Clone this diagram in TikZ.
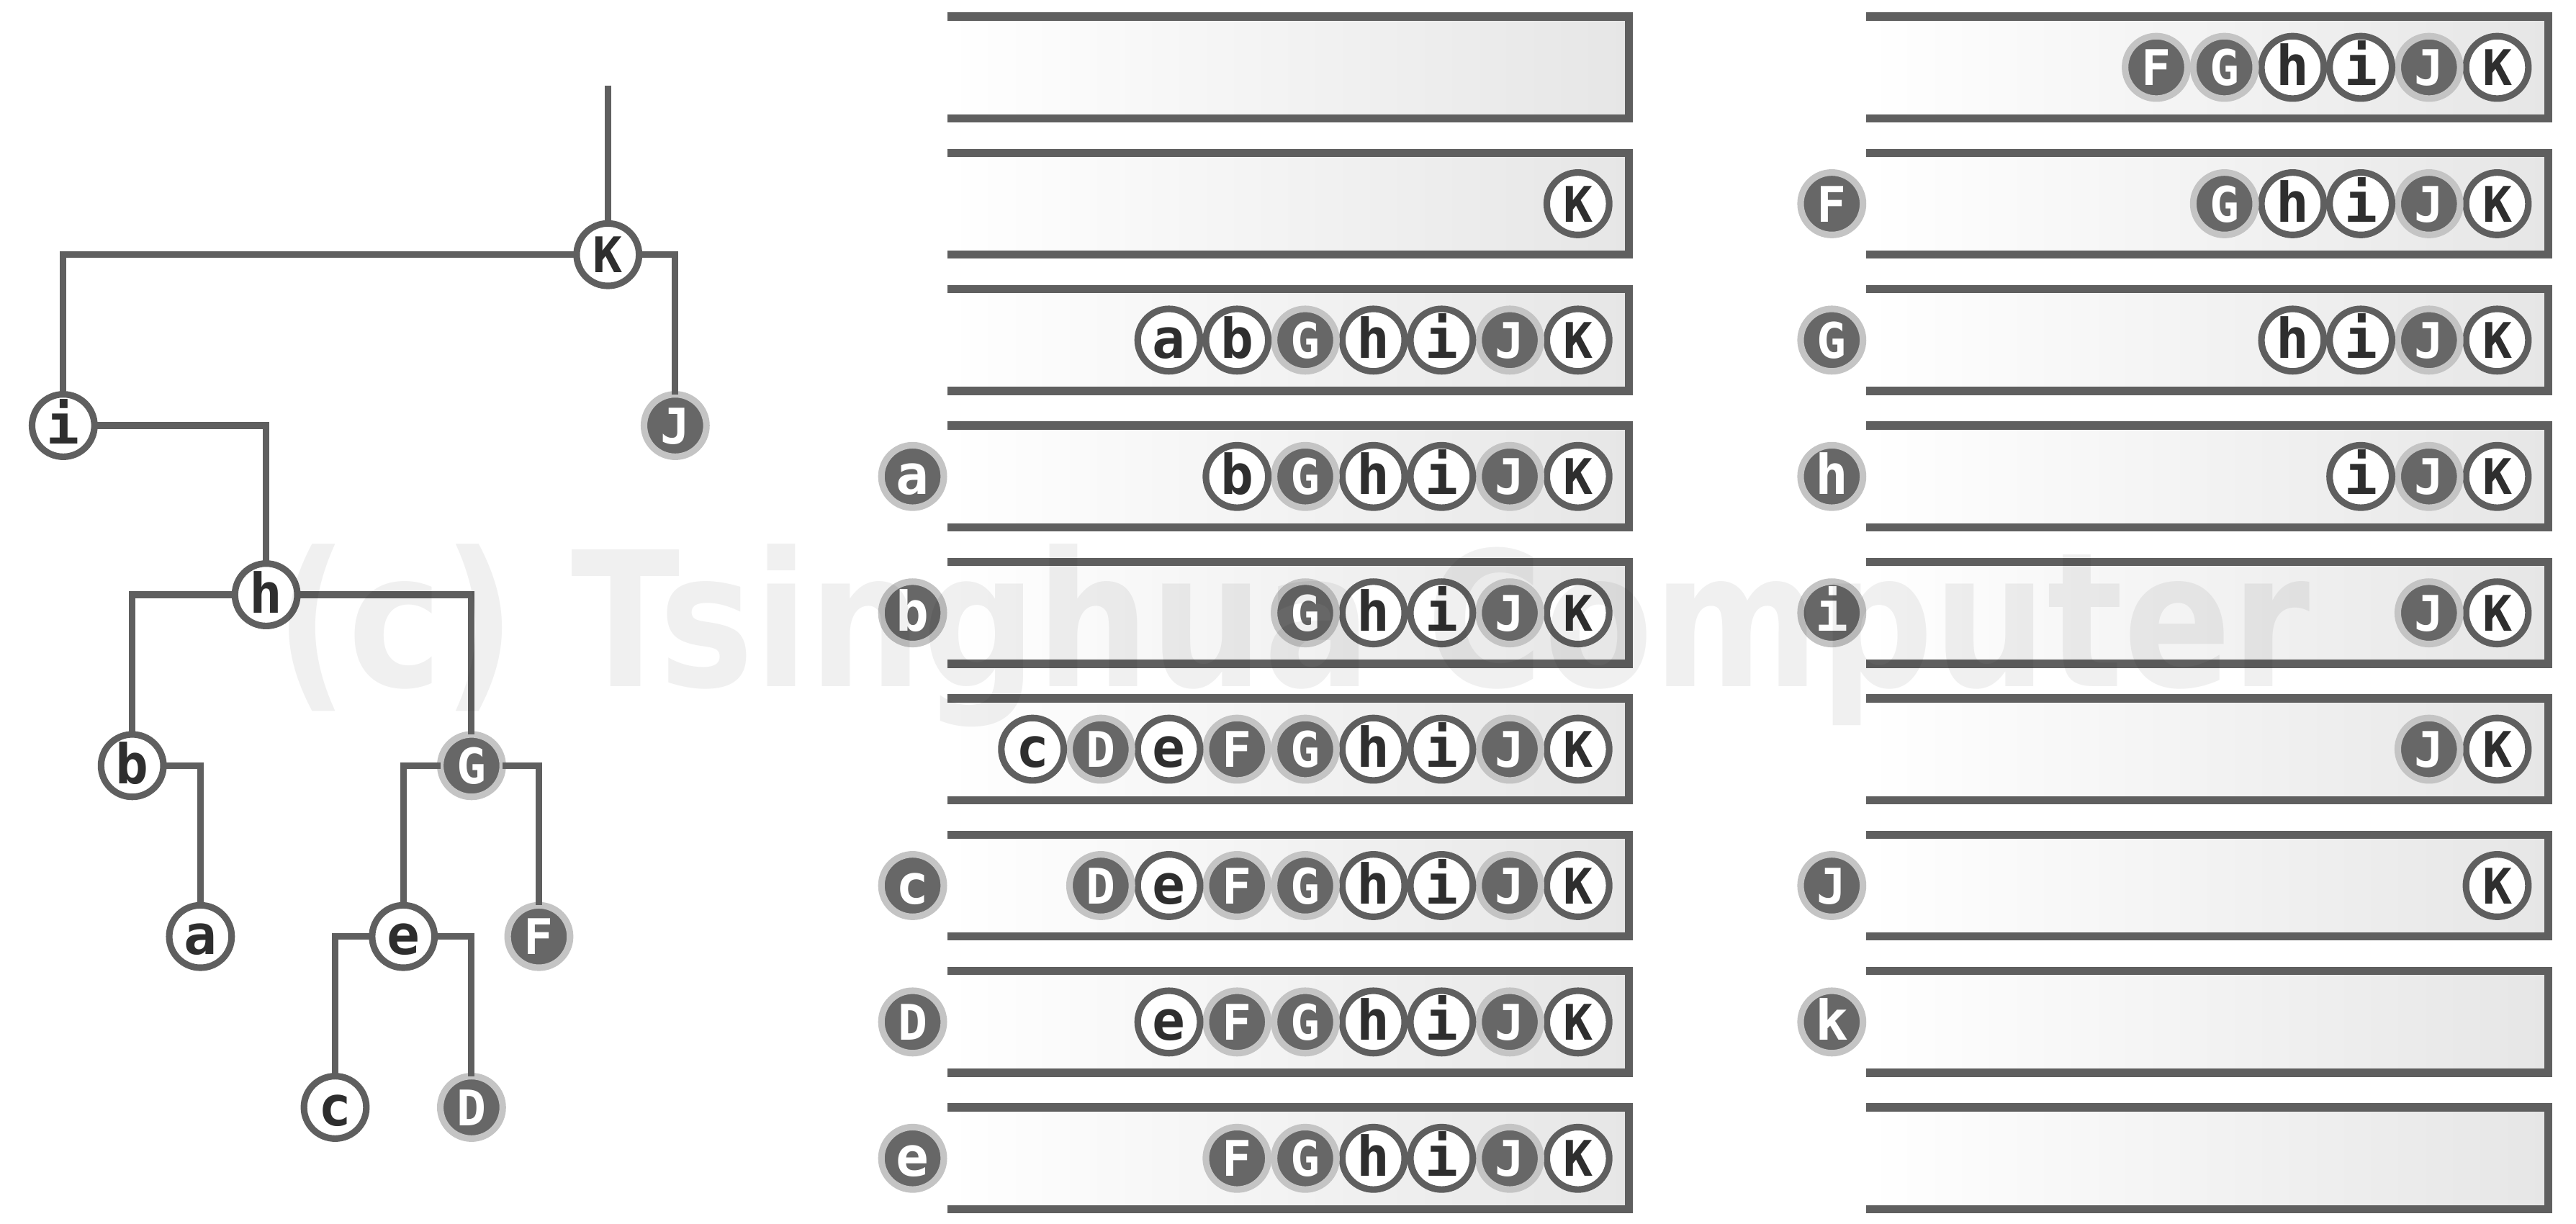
\documentclass[tikz,border=0pt]{standalone}
\usepackage{fontspec}
\usepackage{tikz}
\usetikzlibrary{positioning}
\newfontfamily\lettfont{DejaVu Sans Mono}
\newfontfamily\markfont{DejaVu Sans}
\definecolor{rimgray}{HTML}{5F5F5F}
\definecolor{halo}{HTML}{C4C4C4}
\definecolor{darkfill}{HTML}{676767}
\definecolor{ink}{HTML}{2E2E2E}
\definecolor{boxgray}{HTML}{E6E6E6}
\tikzset{
  wnode/.style={circle, draw=rimgray, fill=white, text=ink, line width=0.8mm, minimum size=7.6mm, inner sep=0pt, outer sep=0pt, text height=4.4mm, text depth=0pt, font=\lettfont\bfseries\fontsize{17}{17}\selectfont},
  dnode/.style={wnode, draw=halo, fill=darkfill, text=white},
  lc/.style={font=\lettfont\bfseries\fontsize{19}{19}\selectfont},
  stackbox/.style={rectangle, left color=white, right color=boxgray, minimum width=83mm, minimum height=12.4mm, inner sep=0pt, outer sep=0pt},
  rimline/.style={draw=rimgray, line width=1mm},
  branch/.style={draw=rimgray, line width=0.8mm},
}

\begin{document}
\begin{tikzpicture}[x=0.2mm, y=-0.2mm]
  \useasboundingbox (0,0) rectangle (1568,744.6);
  % the tree
  \coordinate (top) at (370,52);
  \node[wnode] (tK) at (370,155) {K};
  \node[wnode, lc] (ti) at (38.5,259) {i};
  \node[dnode] (tJ) at (411,259) {J};
  \node[wnode, lc] (th) at (162,362) {h};
  \node[wnode, lc] (tb) at (80.5,466) {b};
  \node[dnode] (tG) at (287,466) {G};
  \node[wnode, lc] (ta) at (122,570) {a};
  \node[wnode, lc] (te) at (245.5,570) {e};
  \node[dnode] (tF) at (328,570) {F};
  \node[wnode, lc] (tc) at (204,674) {c};
  \node[dnode] (tD) at (287,674) {D};
  \draw[branch] (top) -- (tK);
  \draw[branch] (tK.west) -| (ti.north);
  \draw[branch] (tK.east) -| (tJ.north);
  \draw[branch] (ti.east) -| (th.north);
  \draw[branch] (th.west) -| (tb.north);
  \draw[branch] (th.east) -| (tG.north);
  \draw[branch] (tb.east) -| (ta.north);
  \draw[branch] (tG.west) -| (te.north);
  \draw[branch] (tG.east) -| (tF.north);
  \draw[branch] (te.west) -| (tc.north);
  \draw[branch] (te.east) -| (tD.north);
  % stack boxes, middle column
  \node[stackbox] (m1) at (784,41) {};
  \node[stackbox, below=4.2mm of m1] (m2) {};
  \node[stackbox, below=4.2mm of m2] (m3) {};
  \node[stackbox, below=4.2mm of m3] (m4) {};
  \node[stackbox, below=4.2mm of m4] (m5) {};
  \node[stackbox, below=4.2mm of m5] (m6) {};
  \node[stackbox, below=4.2mm of m6] (m7) {};
  \node[stackbox, below=4.2mm of m7] (m8) {};
  \node[stackbox, below=4.2mm of m8] (m9) {};
  % stack boxes, right column
  \node[stackbox] (r1) at (1343.5,41) {};
  \node[stackbox, below=4.2mm of r1] (r2) {};
  \node[stackbox, below=4.2mm of r2] (r3) {};
  \node[stackbox, below=4.2mm of r3] (r4) {};
  \node[stackbox, below=4.2mm of r4] (r5) {};
  \node[stackbox, below=4.2mm of r5] (r6) {};
  \node[stackbox, below=4.2mm of r6] (r7) {};
  \node[stackbox, below=4.2mm of r7] (r8) {};
  \node[stackbox, below=4.2mm of r8] (r9) {};
  \draw[rimline] (m1.north west) -- (m1.north east) -- (m1.south east) -- (m1.south west);
  \draw[rimline] (m2.north west) -- (m2.north east) -- (m2.south east) -- (m2.south west);
  \draw[rimline] (m3.north west) -- (m3.north east) -- (m3.south east) -- (m3.south west);
  \draw[rimline] (m4.north west) -- (m4.north east) -- (m4.south east) -- (m4.south west);
  \draw[rimline] (m5.north west) -- (m5.north east) -- (m5.south east) -- (m5.south west);
  \draw[rimline] (m6.north west) -- (m6.north east) -- (m6.south east) -- (m6.south west);
  \draw[rimline] (m7.north west) -- (m7.north east) -- (m7.south east) -- (m7.south west);
  \draw[rimline] (m8.north west) -- (m8.north east) -- (m8.south east) -- (m8.south west);
  \draw[rimline] (m9.north west) -- (m9.north east) -- (m9.south east) -- (m9.south west);
  \draw[rimline] (r1.north west) -- (r1.north east) -- (r1.south east) -- (r1.south west);
  \draw[rimline] (r2.north west) -- (r2.north east) -- (r2.south east) -- (r2.south west);
  \draw[rimline] (r3.north west) -- (r3.north east) -- (r3.south east) -- (r3.south west);
  \draw[rimline] (r4.north west) -- (r4.north east) -- (r4.south east) -- (r4.south west);
  \draw[rimline] (r5.north west) -- (r5.north east) -- (r5.south east) -- (r5.south west);
  \draw[rimline] (r6.north west) -- (r6.north east) -- (r6.south east) -- (r6.south west);
  \draw[rimline] (r7.north west) -- (r7.north east) -- (r7.south east) -- (r7.south west);
  \draw[rimline] (r8.north west) -- (r8.north east) -- (r8.south east) -- (r8.south west);
  \draw[rimline] (r9.north west) -- (r9.north east) -- (r9.south east) -- (r9.south west);
  % row 2
  \node[wnode, left=2.4mm of m2.east] (m2K) {K};
  % row 3
  \node[wnode, left=2.4mm of m3.east] (m3K) {K};
  \node[dnode, left=0.7mm of m3K] (m3J) {J};
  \node[wnode, lc, left=0.7mm of m3J] (m3i) {i};
  \node[wnode, lc, left=0.7mm of m3i] (m3h) {h};
  \node[dnode, left=0.7mm of m3h] (m3G) {G};
  \node[wnode, lc, left=0.7mm of m3G] (m3b) {b};
  \node[wnode, lc, left=0.7mm of m3b] (m3a) {a};
  % row 4
  \node[dnode, lc, left=0.4mm of m4] (m4out) {a};
  \node[wnode, left=2.4mm of m4.east] (m4K) {K};
  \node[dnode, left=0.7mm of m4K] (m4J) {J};
  \node[wnode, lc, left=0.7mm of m4J] (m4i) {i};
  \node[wnode, lc, left=0.7mm of m4i] (m4h) {h};
  \node[dnode, left=0.7mm of m4h] (m4G) {G};
  \node[wnode, lc, left=0.7mm of m4G] (m4b) {b};
  % row 5
  \node[dnode, lc, left=0.4mm of m5] (m5out) {b};
  \node[wnode, left=2.4mm of m5.east] (m5K) {K};
  \node[dnode, left=0.7mm of m5K] (m5J) {J};
  \node[wnode, lc, left=0.7mm of m5J] (m5i) {i};
  \node[wnode, lc, left=0.7mm of m5i] (m5h) {h};
  \node[dnode, left=0.7mm of m5h] (m5G) {G};
  % row 6
  \node[wnode, left=2.4mm of m6.east] (m6K) {K};
  \node[dnode, left=0.7mm of m6K] (m6J) {J};
  \node[wnode, lc, left=0.7mm of m6J] (m6i) {i};
  \node[wnode, lc, left=0.7mm of m6i] (m6h) {h};
  \node[dnode, left=0.7mm of m6h] (m6G) {G};
  \node[dnode, left=0.7mm of m6G] (m6F) {F};
  \node[wnode, lc, left=0.7mm of m6F] (m6e) {e};
  \node[dnode, left=0.7mm of m6e] (m6D) {D};
  \node[wnode, lc, left=0.7mm of m6D] (m6c) {c};
  % row 7
  \node[dnode, lc, left=0.4mm of m7] (m7out) {c};
  \node[wnode, left=2.4mm of m7.east] (m7K) {K};
  \node[dnode, left=0.7mm of m7K] (m7J) {J};
  \node[wnode, lc, left=0.7mm of m7J] (m7i) {i};
  \node[wnode, lc, left=0.7mm of m7i] (m7h) {h};
  \node[dnode, left=0.7mm of m7h] (m7G) {G};
  \node[dnode, left=0.7mm of m7G] (m7F) {F};
  \node[wnode, lc, left=0.7mm of m7F] (m7e) {e};
  \node[dnode, left=0.7mm of m7e] (m7D) {D};
  % row 8
  \node[dnode, left=0.4mm of m8] (m8out) {D};
  \node[wnode, left=2.4mm of m8.east] (m8K) {K};
  \node[dnode, left=0.7mm of m8K] (m8J) {J};
  \node[wnode, lc, left=0.7mm of m8J] (m8i) {i};
  \node[wnode, lc, left=0.7mm of m8i] (m8h) {h};
  \node[dnode, left=0.7mm of m8h] (m8G) {G};
  \node[dnode, left=0.7mm of m8G] (m8F) {F};
  \node[wnode, lc, left=0.7mm of m8F] (m8e) {e};
  % row 9
  \node[dnode, lc, left=0.4mm of m9] (m9out) {e};
  \node[wnode, left=2.4mm of m9.east] (m9K) {K};
  \node[dnode, left=0.7mm of m9K] (m9J) {J};
  \node[wnode, lc, left=0.7mm of m9J] (m9i) {i};
  \node[wnode, lc, left=0.7mm of m9i] (m9h) {h};
  \node[dnode, left=0.7mm of m9h] (m9G) {G};
  \node[dnode, left=0.7mm of m9G] (m9F) {F};
  % right column, row 1
  \node[wnode, left=2.4mm of r1.east] (r1K) {K};
  \node[dnode, left=0.7mm of r1K] (r1J) {J};
  \node[wnode, lc, left=0.7mm of r1J] (r1i) {i};
  \node[wnode, lc, left=0.7mm of r1i] (r1h) {h};
  \node[dnode, left=0.7mm of r1h] (r1G) {G};
  \node[dnode, left=0.7mm of r1G] (r1F) {F};
  % row 2
  \node[dnode, left=0.4mm of r2] (r2out) {F};
  \node[wnode, left=2.4mm of r2.east] (r2K) {K};
  \node[dnode, left=0.7mm of r2K] (r2J) {J};
  \node[wnode, lc, left=0.7mm of r2J] (r2i) {i};
  \node[wnode, lc, left=0.7mm of r2i] (r2h) {h};
  \node[dnode, left=0.7mm of r2h] (r2G) {G};
  % row 3
  \node[dnode, left=0.4mm of r3] (r3out) {G};
  \node[wnode, left=2.4mm of r3.east] (r3K) {K};
  \node[dnode, left=0.7mm of r3K] (r3J) {J};
  \node[wnode, lc, left=0.7mm of r3J] (r3i) {i};
  \node[wnode, lc, left=0.7mm of r3i] (r3h) {h};
  % row 4
  \node[dnode, lc, left=0.4mm of r4] (r4out) {h};
  \node[wnode, left=2.4mm of r4.east] (r4K) {K};
  \node[dnode, left=0.7mm of r4K] (r4J) {J};
  \node[wnode, lc, left=0.7mm of r4J] (r4i) {i};
  % row 5
  \node[dnode, lc, left=0.4mm of r5] (r5out) {i};
  \node[wnode, left=2.4mm of r5.east] (r5K) {K};
  \node[dnode, left=0.7mm of r5K] (r5J) {J};
  % row 6
  \node[wnode, left=2.4mm of r6.east] (r6K) {K};
  \node[dnode, left=0.7mm of r6K] (r6J) {J};
  % row 7
  \node[dnode, left=0.4mm of r7] (r7out) {J};
  \node[wnode, left=2.4mm of r7.east] (r7K) {K};
  % row 8
  \node[dnode, lc, left=0.4mm of r8] (r8out) {k};
  % watermark
  \node[anchor=base, text=black, opacity=0.06, font=\markfont\bfseries\fontsize{65}{65}\selectfont] (mark) at (787,418) {\scalebox{0.85}[1]{(c) Tsinghua Computer}};
\end{tikzpicture}
\end{document}
